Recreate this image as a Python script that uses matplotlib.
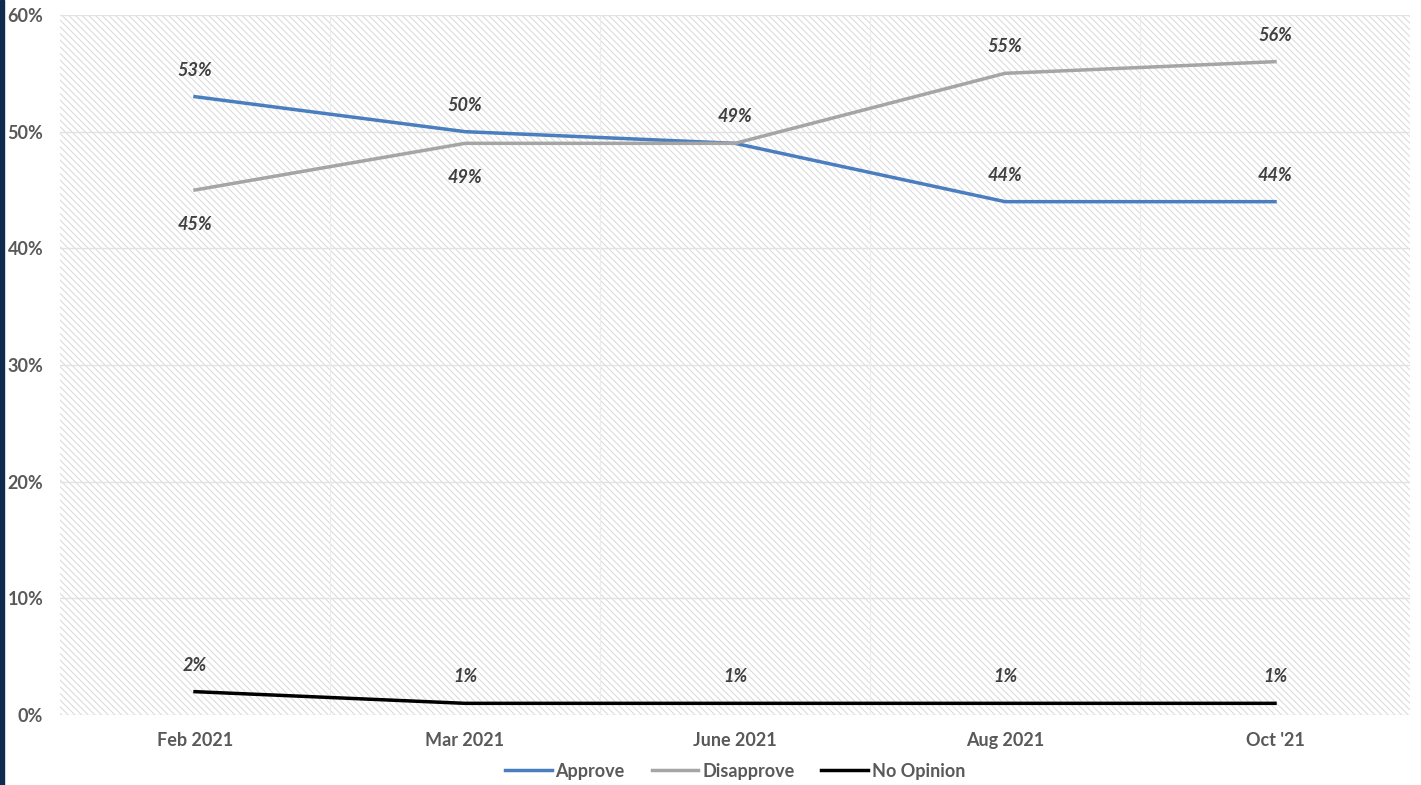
import matplotlib

matplotlib.use("Agg")
import matplotlib.pyplot as plt
from matplotlib.patches import Rectangle

categories = ["Feb 2021", "Mar 2021", "June 2021", "Aug 2021", "Oct '21"]
approve = [53, 50, 49, 44, 44]
disapprove = [45, 49, 49, 55, 56]
no_opinion = [2, 1, 1, 1, 1]

plt.rcParams["font.family"] = ["Lato", "DejaVu Sans"]
plt.rcParams["hatch.color"] = "#d8d8d8"
plt.rcParams["hatch.linewidth"] = 0.7

fig = plt.figure(figsize=(14.21, 7.85), dpi=100)
ax = fig.add_axes([60 / 1421, 70 / 785, 1350 / 1421, 700 / 785])
fig.patches.append(Rectangle((0, 0), 4 / 1421, 1, transform=fig.transFigure, color="#0d2b4e"))

ax.add_patch(Rectangle((0, 0), 1, 1, transform=ax.transAxes, facecolor="white",
                       hatch="\\\\\\\\\\", edgecolor="#d8d8d8", linewidth=0, zorder=0))
x = range(len(categories))
ax.set_xlim(-0.5, len(categories) - 0.5)
ax.set_ylim(0, 60)
for v in range(0, 61, 10):
    ax.axhline(v, color="#e2e2e2", lw=1, zorder=1)
for b in [i + 0.5 for i in range(len(categories) - 1)]:
    ax.axvline(b, color="#ececec", lw=0.8, zorder=1)

ax.plot(x, approve, color="#4a7ebf", lw=2.5, label="Approve", zorder=3)
ax.plot(x, disapprove, color="#a5a5a5", lw=2.5, label="Disapprove", zorder=3)
ax.plot(x, no_opinion, color="black", lw=2.5, label="No Opinion", zorder=3)

lab = dict(fontsize=13, fontweight="bold", fontstyle="italic", color="#404040", ha="center", zorder=4)
up, down = 1.8, -3.4
disapprove_off = [down, down, None, up, up]
for i in x:
    ax.text(i, approve[i] + up, f"{approve[i]}%", **lab)
    if disapprove_off[i] is not None:
        ax.text(i, disapprove[i] + disapprove_off[i], f"{disapprove[i]}%", **lab)
    ax.text(i, no_opinion[i] + up, f"{no_opinion[i]}%", **lab)

ax.set_xticks(list(x))
ax.set_xticklabels(categories, fontsize=13, fontweight="bold", color="#595959")
ax.set_yticks(range(0, 61, 10))
ax.set_yticklabels([f"{v}%" for v in range(0, 61, 10)], fontsize=13, fontweight="bold", color="#595959")
ax.tick_params(length=0, pad=12)
for s in ax.spines.values():
    s.set_visible(False)

ax.legend(loc="center", bbox_to_anchor=(0.5, -0.08), ncol=3, frameon=False,
          prop={"size": 13, "weight": "bold"}, labelcolor="#595959",
          handlelength=2.6, handletextpad=0.2, columnspacing=1.5)

fig.savefig("out.png", dpi=100)
